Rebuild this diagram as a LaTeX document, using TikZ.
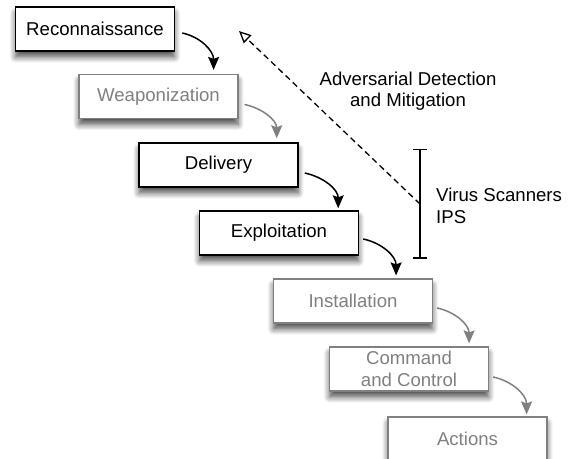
\documentclass[tikz,border=0pt]{standalone}
\usepackage{fontspec}
\setmainfont{Liberation Sans}
\usepackage{tikz}
\usetikzlibrary{arrows.meta,shadows.blur}
\pgfdeclarelayer{nodelayer}
\pgfdeclarelayer{edgelayer}
\pgfsetlayers{edgelayer,nodelayer,main}
\definecolor{stepgrey}{HTML}{808080}
\tikzstyle{black box}=[fill=white, draw=black, line width=1.4pt, shape=rectangle, minimum width=159pt, minimum height=44pt, inner sep=2pt, align=center, blur shadow={shadow xshift=0pt, shadow yshift=-6pt, shadow blur radius=6pt, shadow blur steps=8, shadow opacity=70}]
\tikzstyle{grey box}=[black box, line width=1.2pt, draw=stepgrey, text=stepgrey]
\tikzstyle{none}=[fill=none, draw=none, shape=coordinate]
\tikzstyle{black edge}=[draw=black, line width=1.5pt, -{Stealth[length=13pt,width=11pt,inset=2pt]}]
\tikzstyle{grey edge}=[black edge, draw=stepgrey]
\tikzstyle{dash edge}=[draw=black, line width=1.3pt, dash pattern=on 6pt off 4pt, -{Triangle[open,length=12pt,width=11pt]}]
\tikzstyle{bracket edge}=[draw=black, line width=1.5pt, {Bar[width=14pt]}-{Bar[width=14pt]}]
\tikzstyle{label}=[align=left, inner sep=0pt]

\begin{document}
\begin{tikzpicture}[x=1pt, y=1pt, font=\fontsize{18.6}{21.5}\selectfont]
	\useasboundingbox (0,0) rectangle (573,458);
	\begin{pgfonlayer}{nodelayer}
		\node [style=black box] (0) at (95, 429) {Reconnaissance};
		\node [style=grey box] (1) at (158.5, 361.5) {Weaponization};
		\node [style=black box] (2) at (218.5, 293) {Delivery};
		\node [style=black box] (3) at (279, 225) {Exploitation};
		\node [style=grey box] (4) at (353, 157) {Installation};
		\node [style=grey box] (5) at (409, 89) {Command\\and Control};
		\node [style=grey box] (6) at (467.5, 19) {Actions};
		\node [style=none] (7) at (420, 254) {};
		\node [style=none] (8) at (239, 427) {};
		\node [style=none] (9) at (420, 309) {};
		\node [style=none] (10) at (420, 199) {};
		\node [style=label, align=center] (11) at (408, 367) {Adversarial Detection\\and Mitigation};
		\node [style=label, anchor=west] (12) at (436, 252) {Virus Scanners\\IPS};
	\end{pgfonlayer}
	\begin{pgfonlayer}{edgelayer}
		\draw [style=black edge] ([shift={(7,-4)}]0.east) to [out=-12, in=90] ([shift={(-25,4)}]1.north east);
		\draw [style=grey edge] ([shift={(6,-8)}]1.east) to [out=-12, in=90] ([shift={(-22,4)}]2.north east);
		\draw [style=black edge] ([shift={(6,-8)}]2.east) to [out=-12, in=90] ([shift={(-21,2)}]3.north east);
		\draw [style=black edge] ([shift={(4,-6)}]3.east) to [out=-12, in=90] ([shift={(-37,3)}]4.north east);
		\draw [style=grey edge] ([shift={(4,-7)}]4.east) to [out=-12, in=90] ([shift={(-20,3)}]5.north east);
		\draw [style=grey edge] ([shift={(4,-8)}]5.east) to [out=-12, in=90] ([shift={(-21,2)}]6.north east);
		\draw [style=dash edge] (7) to (8);
		\draw [style=bracket edge] (9) to (10);
	\end{pgfonlayer}
\end{tikzpicture}
\end{document}
